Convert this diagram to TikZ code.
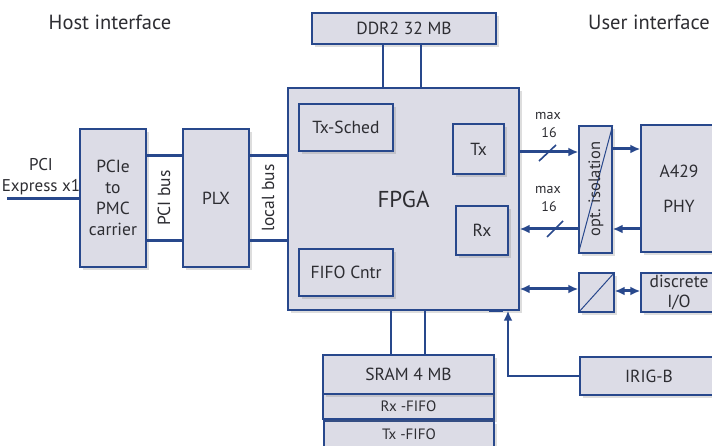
\documentclass[tikz,border=0pt]{standalone}
\usepackage{fontspec}
\setmainfont{PT Sans}
\usetikzlibrary{arrows.meta,shadows,calc}
\definecolor{bfill}{RGB}{220,220,230}
\definecolor{bline}{RGB}{40,72,140}
\definecolor{txt}{RGB}{45,45,50}
\tikzset{
  box/.style={draw=bline, line width=1.4pt, fill=bfill, text=txt, font=\fontsize{17.5}{21}\selectfont,
    align=center, inner sep=0pt,
    drop shadow={shadow xshift=2.5pt, shadow yshift=-3pt, opacity=0.22, fill=black!60}},
  bus/.style={draw=bline, line width=3pt},
  thin/.style={draw=bline, line width=2pt},
  arr/.style={-{Latex[length=10pt,width=9pt]}},
  barr/.style={{Latex[length=10pt,width=9pt]}-{Latex[length=10pt,width=9pt]}},
  lbl/.style={text=txt, inner sep=0pt},
  slash/.style={draw=bline, line width=1.6pt},
}
\begin{document}
\begin{tikzpicture}[x=1pt,y=-1pt]
\clip (0,0) rectangle (712,446);
\fill[white] (0,0) rectangle (712,446);

% headings
\node[lbl, font=\fontsize{20.5}{24}\selectfont] (host) at (110,22) {Host interface};
\node[lbl, font=\fontsize{20.5}{24}\selectfont] (user) at (649,22) {User interface};

% boxes
\node[box, minimum width=66pt, minimum height=138pt] (pcie) at (113,198) {PCIe\\[0pt]to\\[0pt]PMC\\[0pt]carrier};
\node[box, minimum width=66pt, minimum height=138pt] (plx) at (216,198) {PLX};
\node[box, minimum width=184pt, minimum height=31pt] (ddr) at (404,28.5) {DDR2 32 MB};
\node[box, minimum width=231pt, minimum height=222pt, font=\fontsize{23}{27}\selectfont] (fpga) at (403.5,199) {FPGA};
\node[box, minimum width=94pt, minimum height=47pt] (txs) at (346,127.5) {Tx-Sched};
\node[box, minimum width=51pt, minimum height=50pt] (tx) at (478.5,149) {Tx};
\node[box, minimum width=52pt, minimum height=49pt] (rx) at (482,230.5) {Rx};
\node[box, minimum width=94pt, minimum height=47pt] (fifo) at (346,272.5) {FIFO Cntr};
\node[box, minimum width=170pt, minimum height=27pt, font=\fontsize{15}{18}\selectfont] (txf) at (409,434.5) {Tx -FIFO};
\node[box, minimum width=171pt, minimum height=25pt, font=\fontsize{15}{18}\selectfont] (rxf) at (408.5,406.5) {Rx -FIFO};
\node[box, minimum width=171pt, minimum height=39pt] (sram) at (408.5,374.5) {SRAM 4 MB};
\node[box, minimum width=33pt, minimum height=127pt] (iso) at (595.5,189.5) {};
\node[box, minimum width=76pt, minimum height=127pt] (a429) at (679,188.5) {A429\\[14pt]PHY};
\node[box, minimum width=35pt, minimum height=39pt] (conv) at (596.5,292.5) {};
\node[box, minimum width=76pt, minimum height=39pt] (disc) at (679,292.5) {discrete\\[-1pt]I/O};
\node[box, minimum width=138pt, minimum height=38pt] (irig) at (649,376) {IRIG-B};

% diagonals
\draw[bline, line width=1pt] (iso.south west) -- (iso.north east);
\draw[bline, line width=1pt] (conv.south west) -- (conv.north east);
\node[lbl, rotate=90, font=\fontsize{16.5}{18}\selectfont] (isot) at (596,189) {opt. isolation};

% host side connectors
\coordinate (pcin) at (7,199);
\draw[bus] (pcin) -- (pcin -| pcie.west);
\node[lbl, align=center, font=\fontsize{17}{21}\selectfont] (pcit) at (41,177) {PCI\\Express x1};
\draw[bus] (pcie.east |- 0,156) -- (plx.west |- 0,156);
\draw[bus] (pcie.east |- 0,241) -- (plx.west |- 0,241);
\node[lbl, rotate=90, font=\fontsize{17.5}{20}\selectfont] (pcib) at (164,198) {PCI bus};
\draw[bus] (plx.east |- 0,156) -- (fpga.west |- 0,156);
\draw[bus] (plx.east |- 0,241) -- (fpga.west |- 0,241);
\node[lbl, rotate=90, font=\fontsize{17.5}{20}\selectfont] (locb) at (268,198) {local bus};

% memories
\draw[thin] (ddr.south -| 383,0) -- (fpga.north -| 383,0);
\draw[thin] (ddr.south -| 421,0) -- (fpga.north -| 421,0);
\draw[thin] (fpga.south -| 391,0) -- (sram.north -| 391,0);
\draw[thin] (fpga.south -| 425,0) -- (sram.north -| 425,0);

% user side
\draw[bus, arr] (fpga.east |- 0,152) -- (iso.west |- 0,152);
\coordinate (s1a) at (539,161); \coordinate (s1b) at (556,145);
\draw[slash] (s1a) -- (s1b);
\node[lbl, font=\fontsize{14}{16}\selectfont] (m1) at (548,116) {max};
\node[lbl, font=\fontsize{14}{16}\selectfont] (n1) at (549,133) {16};
\draw[bus, arr] (iso.east |- 0,149) -- (a429.west |- 0,149);
\draw[bus, arr] (a429.west |- 0,229) -- (iso.east |- 0,229);
\draw[bus, arr] (iso.west |- 0,229) -- (fpga.east |- 0,229);
\coordinate (s2a) at (547,237); \coordinate (s2b) at (563,221);
\draw[slash] (s2a) -- (s2b);
\node[lbl, font=\fontsize{14}{16}\selectfont] (m2) at (548,190) {max};
\node[lbl, font=\fontsize{14}{16}\selectfont] (n2) at (549,207) {16};
\draw[bus, barr] (fpga.east |- 0,289) -- (conv.west |- 0,289);
\draw[bus, barr] (conv.east |- 0,291) -- (disc.west |- 0,291);

% IRIG-B
\draw[bline, line width=2.4pt, arr] (irig.west) -| (fpga.south -| 508,0);
\draw[bline, line width=3pt] (fpga.south -| 489,0) -- (fpga.south -| 503,0);
\end{tikzpicture}
\end{document}
